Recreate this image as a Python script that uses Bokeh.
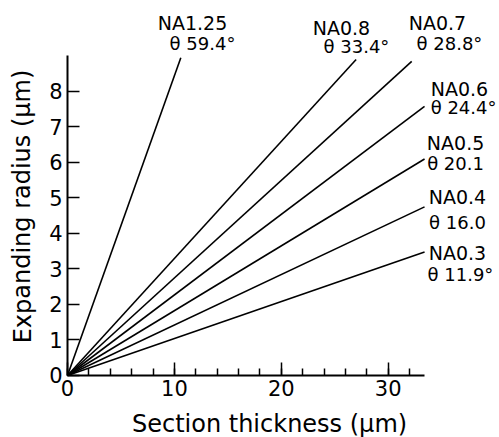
from bokeh.plotting import figure
from bokeh.models import Range1d, FixedTicker, SingleIntervalTicker
from bokeh.core.properties import value
from bokeh.embed import file_html
from bokeh.resources import INLINE

# ---- data ----
na_labels = ["NA1.25", "NA0.8", "NA0.7", "NA0.6", "NA0.5", "NA0.4", "NA0.3"]
theta_labels = ["θ 59.4°", "θ 33.4°", "θ 28.8°", "θ 24.4°", "θ 20.1", "θ 16.0", "θ 11.9°"]
thickness_end = [10.6, 27.0, 32.2, 33.4, 33.4, 33.4, 33.4]
radius_end = [8.95, 8.9, 8.85, 7.58, 6.1, 4.75, 3.48]
y_ticks = [0, 1, 2, 3, 4, 5, 6, 7, 8]
x_title = "Section thickness (μm)"
y_title = "Expanding radius (μm)"

# ---- label anchors (layout) ----
na_x = [11.69, 25.63, 34.61, 36.67, 36.30, 36.48, 36.48]
na_y = [9.94, 9.80, 9.92, 8.08, 6.54, 5.04, 3.46]
th_x = [12.63, 27.03, 35.73, 37.05, 36.30, 36.48, 36.76]
th_y = [9.35, 9.27, 9.35, 7.55, 5.97, 4.31, 2.85]

FONT = "DejaVu Sans"

p = figure(width=499, height=437, output_backend="svg", toolbar_location=None,
           x_range=Range1d(-6.268, 40.412), y_range=Range1d(-1.7465, 10.563),
           min_border=0)
p.outline_line_color = None
p.grid.visible = False
p.background_fill_color = "white"
p.border_fill_color = "white"

# lines from origin
for xe, ye in zip(thickness_end, radius_end):
    p.line([0, xe], [0, ye], line_color="black", line_width=1.6)

# labels
p.text(na_x, na_y, text=na_labels, text_font=value(FONT), text_font_size="19px",
       text_align="center", text_baseline="middle", text_color="black")
p.text(th_x, th_y, text=theta_labels, text_font=value(FONT), text_font_size="18px",
       text_align="center", text_baseline="middle", text_color="black")

# axis titles
p.text([18.9], [-1.38], text=[x_title], text_font=value(FONT), text_font_size="24px",
       text_align="center", text_baseline="middle", text_color="black")
p.text([-4.21], [4.76], text=[y_title], text_font=value(FONT), text_font_size="24px",
       text_align="center", text_baseline="middle", angle=1.5708, text_color="black")

# axes
xa = p.xaxis[0]
xa.fixed_location = 0
xa.bounds = (0, 33.4)
xa.ticker = SingleIntervalTicker(interval=10, num_minor_ticks=5)
xa.major_tick_in = 13
xa.major_tick_out = 0
xa.minor_tick_in = 7
xa.minor_tick_out = 0
xa.axis_line_width = 2
xa.major_tick_line_width = 1.5
xa.minor_tick_line_width = 1.5
xa.major_label_text_font = FONT
xa.major_label_text_font_size = "21px"
xa.major_label_text_color = "black"
xa.major_label_standoff = 5
xa.axis_label = None

ya = p.yaxis[0]
ya.fixed_location = 0
ya.bounds = (0, 9)
ya.ticker = FixedTicker(ticks=y_ticks)
ya.major_tick_in = 12
ya.major_tick_out = 0
ya.minor_tick_line_color = None
ya.axis_line_width = 2
ya.major_tick_line_width = 1.5
ya.major_label_text_font = FONT
ya.major_label_text_font_size = "21px"
ya.major_label_text_color = "black"
ya.major_label_standoff = 5
ya.axis_label = None

open("out.html", "w").write(file_html(p, INLINE))
